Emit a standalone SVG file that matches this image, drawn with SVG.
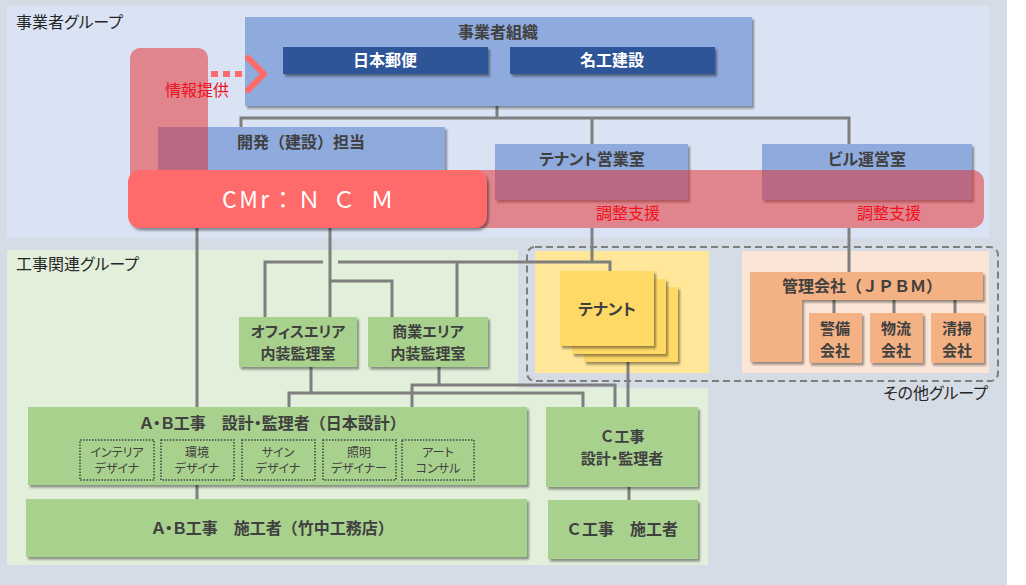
<svg xmlns="http://www.w3.org/2000/svg" width="1026" height="585" viewBox="0 0 1026 585">
<defs>
<filter id="sh" x="-10%" y="-10%" width="125%" height="140%"><feDropShadow dx="2" dy="2.5" stdDeviation="1.3" flood-color="#000" flood-opacity="0.4"/></filter>
<style>
text{font-family:"Noto Sans CJK JP","Noto Sans",sans-serif;fill:#404040}
.grp{font-size:16px;fill:#262626;font-feature-settings:"palt"}
.lb{font-size:16px;font-weight:bold;text-anchor:middle}
.l2{font-size:15px;font-weight:bold;text-anchor:middle}
.pk{font-feature-settings:"palt"}
.wh{fill:#fff}
.red{fill:#F01020;font-size:16px;text-anchor:middle}
.sm{font-size:12px;text-anchor:middle;fill:#404040;font-feature-settings:"palt"}
.blue{fill:#8FAADC}
.navy{fill:#2F5597}
.green{fill:#A9D18E}
.orange{fill:#F4B183}
.card{fill:#FFD966}
.ln{fill:none;stroke:#7F7F7F;stroke-width:3}
.dot{fill:none;stroke:#404040;stroke-width:1.5;stroke-dasharray:1.5 1.5}
</style>
</defs>
<rect x="0" y="0" width="1026" height="585" fill="#fff"/>
<rect x="0" y="0" width="1007" height="585" fill="#D6DCE5"/>
<g id="panels">
<rect x="7" y="6" width="982" height="232" fill="#DAE3F3"/>
<path d="M7,250 H518 V388 H708 V565 H7 Z" fill="#E2EFDA"/>
<rect x="535" y="251" width="174" height="122" fill="#FFE699"/>
<rect x="742" y="251" width="247" height="122" fill="#FBE5D6"/>
<rect x="527" y="247" width="471" height="134" rx="8" fill="none" stroke="#7F7F7F" stroke-width="2" stroke-dasharray="7 4"/>
<text class="grp" x="16" y="28">事業者グループ</text>
<text class="grp" x="16" y="270">工事関連グループ</text>
<text class="grp" x="988" y="399" text-anchor="end">その他グループ</text>
</g>
<g id="connectors">
<path class="ln" d="M497,106 V118 M241,127 V118 H849 V144 M592,118 V144"/>
<path class="ln" d="M197,228 V407 M197,485 V499"/>
<path class="ln" d="M330,228 V317 M330,281 H392 V317"/>
<path class="ln" d="M265,317 V262 H323 M338,262 H610 V271 M457,262 V317 M592,228 V262"/>
<path class="ln" d="M849,228 V272"/>
<path class="ln" d="M311,367 V393 M289,407 V393 H583 V407"/>
<path class="ln" d="M439,367 V385 M412,407 V385 H615 V407"/>
<path class="ln" d="M628,362 V407 M629,487 V500"/>
<path class="ln" d="M834,300 V313 M894,300 V313 M955,300 V313"/>
</g>
<g id="org">
<rect class="blue" x="245" y="17" width="507" height="89" filter="url(#sh)"/>
<text class="lb" x="498" y="38">事業者組織</text>
</g>
<g id="japanpost">
<rect class="navy" x="283" y="47" width="205" height="27" filter="url(#sh)"/>
<text class="lb wh" x="385" y="66">日本郵便</text>
</g>
<g id="meiko">
<rect class="navy" x="510" y="47" width="205" height="27" filter="url(#sh)"/>
<text class="lb wh" x="612" y="66">名工建設</text>
</g>
<g id="dev">
<rect class="blue" x="158" y="127" width="287" height="75" filter="url(#sh)"/>
<text class="lb" x="301" y="148">開発（建設）担当</text>
</g>
<g id="tenantsales">
<rect class="blue" x="495" y="144" width="193" height="56" filter="url(#sh)"/>
<text class="lb pk" x="592" y="165">テナント営業室</text>
</g>
<g id="bldg">
<rect class="blue" x="762" y="144" width="210" height="56" filter="url(#sh)"/>
<text class="lb pk" x="867" y="165">ビル運営室</text>
</g>
<g id="bands">
<rect x="130" y="48" width="78" height="150" rx="10" fill="#E62828" fill-opacity="0.5"/>
<rect x="300" y="170" width="684" height="58" rx="12" fill="#E62828" fill-opacity="0.5"/>
<text class="red" x="628" y="219">調整支援</text>
<text class="red" x="889" y="219">調整支援</text>
</g>
<g id="info">
<text class="red" x="197" y="96">情報提供</text>
<path d="M211,74 H245" stroke="#FF6B6B" stroke-width="6" stroke-dasharray="7 5" fill="none"/>
<path d="M248,58 L264,74 L248,90" stroke="#FF6B6B" stroke-width="6" stroke-linecap="round" stroke-linejoin="round" fill="none"/>
</g>
<g id="cmr">
<rect x="128" y="170" width="359" height="58" rx="12" fill="#FF6B6B" filter="url(#sh)"/>
<text class="wh" font-size="23" y="208"><tspan x="222" letter-spacing="2.5">CMr</tspan><tspan x="283" text-anchor="middle">：</tspan><tspan x="309" text-anchor="middle">Ｎ</tspan><tspan x="344" text-anchor="middle">Ｃ</tspan><tspan x="382" text-anchor="middle">Ｍ</tspan></text>
</g>
<g id="office">
<rect class="green" x="239" y="317" width="118" height="50" filter="url(#sh)"/>
<text class="l2 pk" x="298" y="337">オフィスエリア</text>
<text class="l2" x="298" y="359">内装監理室</text>
</g>
<g id="retail">
<rect class="green" x="368" y="317" width="120" height="50" filter="url(#sh)"/>
<text class="l2 pk" x="428" y="337">商業エリア</text>
<text class="l2" x="428" y="359">内装監理室</text>
</g>
<g id="tenant">
<rect class="card" x="584" y="287" width="94" height="75" filter="url(#sh)"/>
<rect class="card" x="572" y="279" width="94" height="75" filter="url(#sh)"/>
<rect class="card" x="560" y="271" width="94" height="75" filter="url(#sh)"/>
<text x="607" y="315" font-size="16" font-weight="bold" text-anchor="middle" class="pk">テナント</text>
</g>
<g id="jpbm">
<path class="orange" d="M750,272 H983 V300 H802 V362 H750 Z" filter="url(#sh)"/>
<text class="lb" x="862" y="292">管理会社（ＪＰＢＭ）</text>
</g>
<g id="security">
<rect class="orange" x="809" y="313" width="53" height="50" filter="url(#sh)"/>
<text class="l2" x="835" y="334">警備</text>
<text class="l2" x="835" y="356">会社</text>
</g>
<g id="logistics">
<rect class="orange" x="870" y="313" width="53" height="50" filter="url(#sh)"/>
<text class="l2" x="896" y="334">物流</text>
<text class="l2" x="896" y="356">会社</text>
</g>
<g id="cleaning">
<rect class="orange" x="931" y="313" width="53" height="50" filter="url(#sh)"/>
<text class="l2" x="957" y="334">清掃</text>
<text class="l2" x="957" y="356">会社</text>
</g>
<g id="abdesign">
<rect class="green" x="28" y="407" width="499" height="78" filter="url(#sh)"/>
<text class="lb" x="273" y="429"><tspan class="pk">Ａ・Ｂ工事</tspan>　<tspan class="pk">設計・監理者</tspan>（日本設計）</text>
<rect class="dot" x="80" y="440" width="74" height="40"/>
<text class="sm" x="117" y="457">インテリア</text><text class="sm" x="117" y="473">デザイナ</text>
<rect class="dot" x="161" y="440" width="73" height="40"/>
<text class="sm" x="197" y="457">環境</text><text class="sm" x="197" y="473">デザイナ</text>
<rect class="dot" x="242" y="440" width="73" height="40"/>
<text class="sm" x="278" y="457">サイン</text><text class="sm" x="278" y="473">デザイナ</text>
<rect class="dot" x="323" y="440" width="73" height="40"/>
<text class="sm" x="359" y="457">照明</text><text class="sm" x="359" y="473">デザイナー</text>
<rect class="dot" x="402" y="440" width="72" height="40"/>
<text class="sm" x="438" y="457">アート</text><text class="sm" x="438" y="473">コンサル</text>
</g>
<g id="abbuild">
<rect class="green" x="26" y="499" width="501" height="58" filter="url(#sh)"/>
<text class="lb" x="273" y="534"><tspan class="pk">Ａ・Ｂ工事</tspan>　施工者（竹中工務店）</text>
</g>
<g id="cdesign">
<rect class="green" x="546" y="407" width="152" height="80" filter="url(#sh)"/>
<text class="l2" x="622" y="442">Ｃ工事</text>
<text class="l2 pk" x="622" y="464">設計・監理者</text>
</g>
<g id="cbuild">
<rect class="green" x="548" y="500" width="150" height="59" filter="url(#sh)"/>
<text class="lb" x="622" y="535">Ｃ工事　施工者</text>
</g>
</svg>
